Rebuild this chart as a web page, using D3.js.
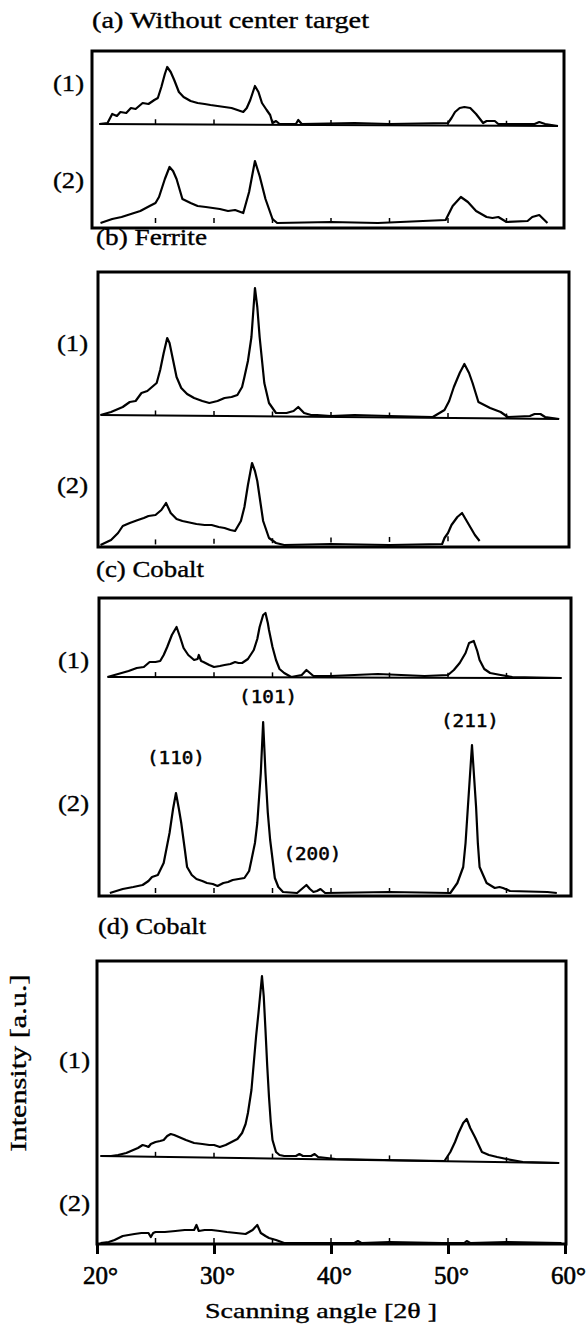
<!DOCTYPE html>
<html>
<head>
<meta charset="utf-8">
<script src="https://cdn.jsdelivr.net/npm/d3@7"></script>
<style>
body { margin: 0; background: #fff; }
svg { display: block; background: #fff; }
text { font-family: "Liberation Serif", "Times New Roman", serif; fill: #000; stroke: #000; stroke-width: 0.35px; }
</style>
</head>
<body>
<svg id="chart"></svg>
<script>
// [2theta (deg), intensity (a.u.)]
const a1 = [[20.2,0],[20.9,0.5],[21.3,5],[21.7,4],[22.0,6],[22.5,5.5],[22.9,8],[23.3,7.5],[23.9,10.5],[24.4,10],[24.9,12],[25.2,13],[25.5,18.5],[25.8,25],[26.0,28.5],[26.3,26],[26.6,22],[27.0,16],[27.4,13.5],[28.0,11.5],[28.6,10.5],[29.2,10],[29.7,9.5],[30.3,9],[30.9,8.5],[31.5,8],[32.0,7],[32.5,6],[32.8,8],[33.1,12],[33.5,19],[33.8,16],[34.1,10.5],[34.5,7],[34.8,4.5],[35.0,0.5],[35.3,1.5],[35.6,0],[37.0,0],[37.2,2],[37.5,0],[42.0,0.5],[45.0,0],[50.0,0.5],[50.3,3],[50.6,6],[51.0,8],[51.4,8.5],[51.9,8],[52.4,5],[53.0,0.5],[53.3,1.5],[54.0,1.5],[54.3,0],[57.4,0],[57.8,1],[58.3,0],[59.4,-1]];
const a2 = [[20.3,0],[21.3,2],[22.1,3],[22.9,4.5],[23.7,6],[24.5,8.5],[25.0,10],[25.3,13],[25.8,22],[26.2,28],[26.5,26],[26.8,22],[27.3,12],[28.0,10],[28.6,8.5],[29.3,8],[29.9,7.5],[30.5,7],[31.2,6],[31.8,6.5],[32.5,5],[33.0,15.5],[33.5,31],[33.9,23.5],[34.4,12],[35.0,2],[35.4,0],[40.0,0.5],[44.0,0],[49.8,1.5],[50.4,8.5],[51.1,13],[51.7,10.5],[52.4,6],[53.3,3],[53.8,2.5],[54.3,3],[55.0,0.5],[56.8,1],[57.2,3],[57.8,4],[58.5,0]];
const b1 = [[20.3,1],[21.2,2.5],[22.2,5],[22.8,7.5],[23.3,8],[23.8,12],[24.3,13],[24.7,15],[25.1,17],[25.4,23.5],[25.7,32],[26.0,39.5],[26.2,37],[26.5,28.5],[26.8,20],[27.2,14.5],[27.7,11.5],[28.3,9.5],[29.0,8],[29.6,7],[30.3,8],[30.9,9.5],[31.5,10],[32.0,11],[32.4,15],[32.6,20],[32.9,28],[33.2,40],[33.5,64.5],[33.7,55],[33.9,40],[34.3,17],[34.7,7],[35.3,2],[36.2,2],[36.8,3],[37.2,5],[37.7,2],[38.3,1],[38.8,1],[40.0,0.5],[42.0,1],[45.0,0.5],[48.7,0],[49.7,3.5],[50.1,8],[50.5,15],[51.0,22],[51.4,26.5],[51.8,22],[52.1,17],[52.6,7.5],[53.6,4.5],[54.5,2.5],[55.1,0],[57.0,0.5],[57.4,1.5],[57.9,1.5],[58.3,0],[59.5,-1]];
const b2 = [[20.3,0],[21.2,2.5],[21.8,6],[22.2,9.5],[22.8,11],[23.5,12.5],[24.0,13.5],[24.4,14.5],[25.0,15],[25.5,17.5],[25.9,21],[26.3,16],[26.8,13],[27.3,12],[28.5,10.5],[29.2,10],[29.8,10],[30.4,9],[30.9,8.5],[31.4,7.5],[31.8,7],[32.3,12],[32.6,19],[32.9,30],[33.25,41],[33.5,37],[33.7,32],[34.0,20],[34.2,12],[34.7,3.5],[35.3,1],[36.0,0],[40.0,0.5],[45.0,0],[49.5,0.5],[49.7,3.5],[50.0,6],[50.3,10],[50.8,14],[51.2,16],[51.5,13],[51.8,10],[52.3,5],[52.7,2]];
const c1 = [[20.9,0],[21.5,1],[22.1,2],[22.7,3],[23.4,4.5],[24.0,5],[24.5,7.5],[25.0,7.5],[25.4,8],[25.7,11],[26.0,15],[26.4,21],[26.8,25],[27.1,20],[27.4,14.5],[27.8,11],[28.3,8.5],[28.6,9],[28.7,11],[28.9,8],[29.1,7.5],[29.6,6],[30.0,5],[30.5,5.5],[30.9,6],[31.4,6.5],[31.8,7.5],[32.1,7],[32.4,7],[32.9,9],[33.4,13.5],[33.7,19],[33.9,25],[34.2,31],[34.4,32],[34.6,27],[34.7,23.5],[35.0,15],[35.3,8.5],[35.6,4],[36.0,2],[36.6,0],[37.5,1],[37.9,3.5],[38.2,2],[38.5,0.5],[40.0,0.5],[42.0,1],[44.0,1.5],[46.0,1],[48.0,0.5],[50.0,1],[50.5,3.5],[51.0,7],[51.5,12],[51.8,17],[52.2,18],[52.5,13],[52.7,8.5],[53.1,4],[53.6,2],[54.5,1],[55.5,0],[59.7,-0.5]];
const c2 = [[21.1,0],[22.2,2],[23.1,3],[23.9,4],[24.4,6],[24.7,8],[25.2,9],[25.7,15],[26.2,30],[26.5,42],[26.75,50],[27.0,42],[27.2,35],[27.5,22],[27.7,13],[28.1,9],[28.5,7],[29.0,6],[29.4,5],[29.9,4.5],[30.3,3.5],[30.8,5],[31.2,5.5],[31.6,6.5],[32.1,7],[32.6,7.5],[33.0,11],[33.2,16.5],[33.5,25],[33.7,35],[34.0,60],[34.2,85.5],[34.4,60],[34.6,40],[34.8,26.5],[35.2,7.5],[35.5,3],[35.9,0.5],[37.1,0],[37.5,2],[37.9,4],[38.2,2],[38.5,0.5],[38.8,1],[39.1,2],[39.5,0],[45.0,0.5],[50.2,0],[50.8,5],[51.3,13],[51.5,25],[51.7,43],[52.05,74],[52.4,43],[52.55,25],[52.7,13],[53.3,5],[54.0,2.5],[54.4,3],[54.7,2.5],[55.3,1],[58.5,0.5],[59.3,0]];
const d1 = [[20.3,0],[21.2,0],[21.8,0.5],[22.5,1.5],[23.1,3],[23.5,4],[23.9,5.5],[24.2,5],[24.4,4.5],[24.6,6],[25.0,7],[25.4,7.5],[25.7,8],[26.0,10],[26.3,11],[26.6,10.5],[27.0,9.5],[27.6,8],[28.3,6.5],[29.0,6],[29.6,5.5],[30.0,5.5],[30.5,4.5],[31.0,5.5],[31.5,7],[32.0,8.5],[32.4,11.5],[32.7,16],[32.9,21.5],[33.2,33],[33.4,46.5],[33.6,60],[33.8,71.5],[34.1,90],[34.25,80],[34.4,63],[34.55,45],[34.7,29.5],[34.85,17],[35.0,8],[35.3,2],[35.6,0.5],[36.0,0],[37.0,0],[37.3,1],[37.6,0],[38.3,0],[38.6,1],[38.9,-0.5],[40.4,-1.5],[44.5,-2],[49.7,-2.5],[50.2,2],[50.6,7],[50.9,11.5],[51.3,16.5],[51.6,18.5],[51.9,14],[52.3,9.5],[52.9,2],[53.5,0.5],[54.2,-0.5],[55.0,-1.5],[56.4,-3],[59.5,-3.5]];
const d2 = [[20.3,0],[21.0,0.5],[21.5,1.5],[22.2,3.5],[22.7,4],[23.2,4.5],[23.8,5],[24.4,5],[24.6,3],[24.8,5],[25.0,5.5],[25.8,5.5],[26.7,6],[27.5,6.5],[28.3,6.5],[28.5,9],[28.7,6],[29.2,6.5],[29.8,6.5],[30.5,6],[31.1,5.5],[31.9,5],[32.7,4.5],[33.3,6.5],[33.7,9],[34.0,5],[34.4,3.5],[34.7,2.5],[35.3,1.5],[36.0,0],[42.0,0],[42.3,1],[42.6,0],[45.0,0.5],[49.5,0],[51.4,0],[51.6,1],[51.9,0],[55.0,0.5],[59.7,0]];

const axisTicks = [20, 30, 40, 50, 60];
const minorTicks = [25, 30, 35, 40, 45, 50, 55];
const peakHkl = ["(110)", "(101)", "(200)", "(211)"];
const peakAngle = [26.75, 34.2, 37.9, 52.05];

const width = 586;
const height = 1332;
const svg = d3.select("#chart").attr("width", width).attr("height", height);

const x = d3.scaleLinear().domain([20, 60]).range([97, 565]);
const pxPerUnit = 2;

// frame = [left, top, right, bottom]
const panels = [
    { title: "(a) Without center target", tx: 92, ty: 28, tlen: 277, frame: [92, 51, 564, 228], lx: 84,
      traces: [{ data: a1, base: 124, ly: 91, zero: true }, { data: a2, base: 223, ly: 188 }] },
    { title: "(b) Ferrite", tx: 96, ty: 245, tlen: 111, frame: [98, 272, 569, 547], lx: 88,
      traces: [{ data: b1, base: 417, ly: 351, zero: true }, { data: b2, base: 545, ly: 493 }] },
    { title: "(c) Cobalt", tx: 96, ty: 577, tlen: 108, frame: [99, 598, 571, 896], lx: 89,
      traces: [{ data: c1, base: 677, ly: 668, zero: true }, { data: c2, base: 893, ly: 811, peaks: true }] },
    { title: "(d) Cobalt", tx: 98, ty: 934, tlen: 108, frame: [97, 961, 566, 1244], lx: 90,
      traces: [{ data: d1, base: 1156, ly: 1068, zero: true }, { data: d2, base: 1243, ly: 1211 }] },
];

// label offsets from the peak top (dx, dy to baseline)
const peakOffset = [[0, -29], [5, -19], [6, -25], [-2, -18]];

panels.forEach((p) => {
    svg.append("text")
        .attr("x", p.tx)
        .attr("y", p.ty)
        .attr("font-size", 23)
        .attr("textLength", p.tlen)
        .attr("lengthAdjust", "spacingAndGlyphs")
        .text(p.title);

    const [l, t, r, b] = p.frame;
    svg.append("rect")
        .attr("x", l).attr("y", t)
        .attr("width", r - l).attr("height", b - t)
        .attr("fill", "none")
        .attr("stroke", "#000")
        .attr("stroke-width", 3);

    p.traces.forEach((tr, i) => {
        const y = d3.scaleLinear().domain([0, 100]).range([tr.base, tr.base - 100 * pxPerUnit]);
        const line = d3.line().x((d) => x(d[0])).y((d) => y(d[1]));
        const first = tr.data[0];
        const last = tr.data[tr.data.length - 1];
        const baseAt = (a) => first[1] + ((last[1] - first[1]) * (a - first[0])) / (last[0] - first[0]);

        if (tr.zero) {
            svg.append("path")
                .attr("d", line([first, last]))
                .attr("fill", "none")
                .attr("stroke", "#000")
                .attr("stroke-width", 2);
        }

        svg.selectAll(null)
            .data(minorTicks.filter((a) => a > first[0] && a < last[0]))
            .enter()
            .append("line")
            .attr("x1", (a) => x(a)).attr("x2", (a) => x(a))
            .attr("y1", (a) => y(baseAt(a)))
            .attr("y2", (a) => y(baseAt(a)) - 5)
            .attr("stroke", "#000")
            .attr("stroke-width", 1.5);

        svg.append("path")
            .datum(tr.data)
            .attr("d", line)
            .attr("fill", "none")
            .attr("stroke", "#000")
            .attr("stroke-width", 2.2)
            .attr("stroke-linejoin", "round");

        svg.append("text")
            .attr("x", p.lx)
            .attr("y", tr.ly)
            .attr("text-anchor", "end")
            .attr("font-size", 24)
            .attr("textLength", 31)
            .attr("lengthAdjust", "spacingAndGlyphs")
            .text(`(${i + 1})`);

        if (tr.peaks) {
            peakHkl.forEach((h, k) => {
                const pt = tr.data.reduce((m, d) =>
                    Math.abs(d[0] - peakAngle[k]) < Math.abs(m[0] - peakAngle[k]) ? d : m);
                svg.append("text")
                    .attr("x", x(peakAngle[k]) + peakOffset[k][0])
                    .attr("y", y(pt[1]) + peakOffset[k][1])
                    .attr("text-anchor", "middle")
                    .attr("font-size", 17)
                    .attr("textLength", 58)
                    .attr("lengthAdjust", "spacingAndGlyphs")
                    .style("font-family", '"DejaVu Sans Mono", monospace')
                    .style("stroke-width", "0.5px")
                    .text(h);
            });
        }
    });
});

// bottom axis
const axis = d3.axisBottom(x)
    .tickValues(axisTicks)
    .tickSize(10)
    .tickPadding(12)
    .tickFormat((d) => d + "°");
const gAxis = svg.append("g")
    .attr("transform", "translate(0, 1244)")
    .call(axis)
    .attr("font-family", null)
    .attr("font-size", null);
gAxis.select(".domain").remove();
gAxis.selectAll(".tick line").attr("stroke", "#000").attr("stroke-width", 3);
gAxis.selectAll(".tick text")
    .attr("font-size", 25)
    .attr("dx", 3)
    .attr("fill", "#000")
    .style("stroke-width", "0.6px");

svg.append("text")
    .attr("x", 205)
    .attr("y", 1318)
    .attr("font-size", 21)
    .attr("textLength", 232)
    .attr("lengthAdjust", "spacingAndGlyphs")
    .text("Scanning angle [2θ ]");

svg.append("text")
    .attr("transform", "translate(26, 1063) rotate(-90)")
    .attr("text-anchor", "middle")
    .attr("font-size", 23)
    .attr("textLength", 177)
    .attr("lengthAdjust", "spacingAndGlyphs")
    .text("Intensity [a.u.]");
</script>
</body>
</html>
